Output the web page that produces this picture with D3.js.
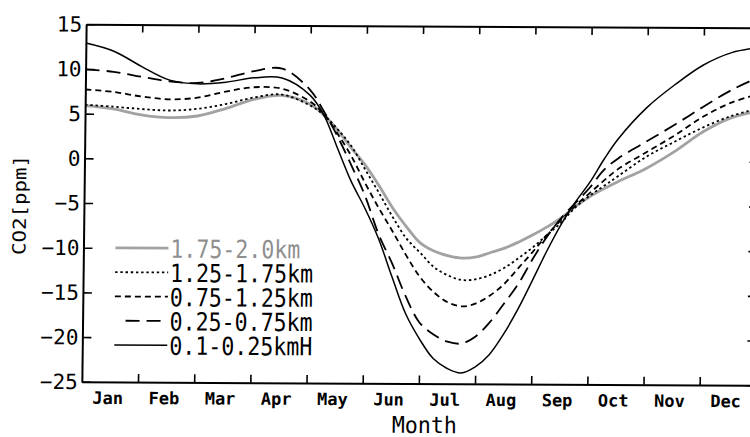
<!DOCTYPE html>
<html>
<head>
<meta charset="utf-8">
<script src="https://cdn.jsdelivr.net/npm/d3@7"></script>
<style>
  html, body { margin: 0; padding: 0; background: #fff; overflow: hidden; }
  svg { display: block; }
</style>
</head>
<body>
<svg id="chart" width="750" height="437"></svg>
<script>
// Month labels and y-axis ticks
const monthNames = ["Jan", "Feb", "Mar", "Apr", "May", "Jun", "Jul", "Aug", "Sep", "Oct", "Nov", "Dec"];
const yTicks = [15, 10, 5, 0, -5, -10, -15, -20, -25];

// Sample positions along the year, in months from 1 January
const monthPos = [0, 0.5, 1, 1.5, 2, 2.5, 3, 3.5, 4,
  4.25, 4.5, 4.75, 5, 5.25, 5.5, 5.75, 6, 6.25, 6.5, 6.75, 7, 7.25, 7.5, 7.75,
  8, 8.25, 8.5, 8.75, 9, 9.25, 9.5,
  10, 10.5, 11, 11.5, 12];

// CO2 seasonal anomaly [ppm] per altitude layer
const co2_175_200 = [5.9, 5.55, 4.9, 4.6, 4.8, 5.65, 6.7, 7.15, 6.2,
  5.0, 3.3, 1.3, -0.6, -2.9, -5.4, -7.5, -9.3, -10.2, -10.7, -10.95, -10.8, -10.3, -9.8, -9.1,
  -8.3, -7.4, -6.4, -5.1, -4.0, -3.1, -2.3,
  -0.8, 1.1, 3.3, 4.9, 5.7];
const co2_125_175 = [6.0, 5.8, 5.55, 5.4, 5.6, 6.15, 6.9, 7.25, 6.05,
  5.0, 3.4, 1.5, -1.1, -3.7, -6.4, -8.8, -10.4, -12.0, -12.9, -13.4, -13.3, -12.8, -12.0, -10.9,
  -9.7, -8.3, -6.9, -5.2, -3.9, -2.8, -1.7,
  0.5, 2.2, 3.8, 5.1, 6.0];
const co2_075_125 = [7.7, 7.45, 6.95, 6.65, 6.85, 7.55, 8.05, 7.9, 6.5,
  5.1, 2.9, 0.4, -2.6, -5.4, -8.0, -10.7, -13.1, -14.8, -15.9, -16.35, -16.0, -15.1, -13.8, -12.0,
  -10.2, -8.3, -6.6, -5.0, -3.6, -2.2, -0.9,
  1.0, 2.9, 5.0, 6.6, 7.6];
const co2_025_075 = [9.95, 9.7, 9.15, 8.65, 8.5, 9.05, 9.85, 10.15, 7.8,
  5.4, 2.6, -0.6, -4.0, -8.3, -11.6, -15.3, -18.2, -19.5, -20.3, -20.5, -19.7, -18.1, -16.0, -13.8,
  -11.0, -8.5, -6.4, -4.7, -3.0, -1.0, 0.3,
  2.2, 4.1, 6.1, 8.0, 9.5];
const co2_010_025 = [12.9, 12.0, 10.3, 8.8, 8.4, 8.6, 9.1, 9.1, 7.2,
  5.0, 1.3, -2.4, -5.4, -8.8, -13.1, -17.2, -20.0, -22.2, -23.3, -23.8, -23.1, -21.7, -19.4, -16.6,
  -13.4, -10.1, -7.1, -4.6, -2.4, 0.2, 2.5,
  6.0, 8.6, 10.8, 12.2, 12.8];

const seriesNames = ["1.75-2.0km", "1.25-1.75km", "0.75-1.25km", "0.25-0.75km", "0.1-0.25kmH"];
const seriesValues = [co2_175_200, co2_125_175, co2_075_125, co2_025_075, co2_010_025];

// Line styles per layer
const styles = [
  { stroke: "#a2a2a2", width: 2.8, dash: null,      text: "#8f8f8f" },
  { stroke: "#000",    width: 1.8, dash: "2.4,2.8", text: "#000" },
  { stroke: "#000",    width: 1.8, dash: "6,4",     text: "#000" },
  { stroke: "#000",    width: 1.8, dash: "14,7",    text: "#000" },
  { stroke: "#000",    width: 1.5, dash: null,      text: "#000" }
];

const FONT = "'DejaVu Sans Mono', 'Liberation Mono', monospace";

const svg = d3.select("#chart");
svg.append("rect").attr("width", 750).attr("height", 437).attr("fill", "#fff");

const x = d3.scaleLinear().domain([0, 12]).range([84, 758]);
const y = d3.scaleLinear().domain([-25, 15]).range([383.5, 26]);

// slight skew of the printed sheet
const g = svg.append("g").attr("transform", "matrix(1,0.0052,-0.012,1,2.45,-2.18)");

// Data lines
const line = d3.line()
  .x((d, i) => x(monthPos[i]))
  .y(d => y(d))
  .curve(d3.curveCatmullRom.alpha(0.5));

seriesValues.forEach((vals, k) => {
  const st = styles[k];
  g.append("path")
    .datum(vals)
    .attr("d", line)
    .attr("fill", "none")
    .attr("stroke", st.stroke)
    .attr("stroke-width", st.width)
    .attr("stroke-dasharray", st.dash)
    .attr("stroke-linejoin", "round");
});

// Axes
function styleAxis(sel) {
  sel.select(".domain").attr("stroke", "#000").attr("stroke-width", 2);
  sel.selectAll(".tick line").attr("stroke", "#000").attr("stroke-width", 1.6);
}

const leftAxis = g.append("g")
  .attr("transform", `translate(${x(0)},0)`)
  .call(d3.axisLeft(y).tickValues(yTicks).tickSizeInner(-9).tickSizeOuter(0).tickPadding(4)
    .tickFormat(d => d < 0 ? "\u2212" + Math.abs(d) : String(d)));
styleAxis(leftAxis);
leftAxis.selectAll("text")
  .attr("font-family", FONT).attr("font-size", 21).attr("fill", "#000")
  .attr("dy", "0.33em");

const rightAxis = g.append("g")
  .attr("transform", `translate(${x(12)},0)`)
  .call(d3.axisRight(y).tickValues(yTicks).tickSizeInner(-9).tickSizeOuter(0).tickFormat(""));
styleAxis(rightAxis);

const topAxis = g.append("g")
  .attr("transform", `translate(0,${y(15)})`)
  .call(d3.axisTop(x).tickValues(d3.range(1, 12)).tickSizeInner(-8).tickSizeOuter(0).tickFormat(""));
styleAxis(topAxis);

const bottomAxis = g.append("g")
  .attr("transform", `translate(0,${y(-25)})`)
  .call(d3.axisBottom(x).tickValues(d3.range(1, 12)).tickSizeInner(-8).tickSizeOuter(0).tickFormat(""));
styleAxis(bottomAxis);

const monthAxis = g.append("g")
  .attr("transform", `translate(0,${y(-25)})`)
  .call(d3.axisBottom(x).tickValues(d3.range(0.5, 12, 1)).tickSize(0).tickPadding(10)
    .tickFormat((d, i) => monthNames[i]));
monthAxis.select(".domain").remove();
monthAxis.selectAll("text")
  .attr("font-family", FONT).attr("font-size", 17).attr("font-weight", "bold")
  .attr("fill", "#000").attr("dx", -2.5);

// Axis titles
g.append("text")
  .attr("x", 427).attr("y", 433)
  .attr("text-anchor", "middle")
  .attr("font-family", FONT).attr("font-size", 23)
  .attr("textLength", 65).attr("lengthAdjust", "spacingAndGlyphs")
  .text("Month");

g.append("text")
  .attr("transform", "translate(26,207) rotate(-90)")
  .attr("text-anchor", "middle")
  .attr("font-family", FONT).attr("font-size", 18)
  .attr("textLength", 100).attr("lengthAdjust", "spacingAndGlyphs")
  .text("CO2[ppm]");

// Legend
const legend = g.append("g");
seriesNames.forEach((name, k) => {
  const st = styles[k];
  const cy = 249.5 + k * 24.25;
  const x0 = k === 3 ? 127 : 116;
  legend.append("line")
    .attr("x1", x0).attr("x2", 169).attr("y1", cy).attr("y2", cy)
    .attr("stroke", st.stroke).attr("stroke-width", st.width)
    .attr("stroke-dasharray", st.dash);
  legend.append("text")
    .attr("x", 171).attr("y", cy + 9.5)
    .attr("font-family", FONT).attr("font-size", 25)
    .attr("fill", st.text)
    .attr("textLength", name.length * 13).attr("lengthAdjust", "spacingAndGlyphs")
    .text(name);
});
</script>
</body>
</html>
